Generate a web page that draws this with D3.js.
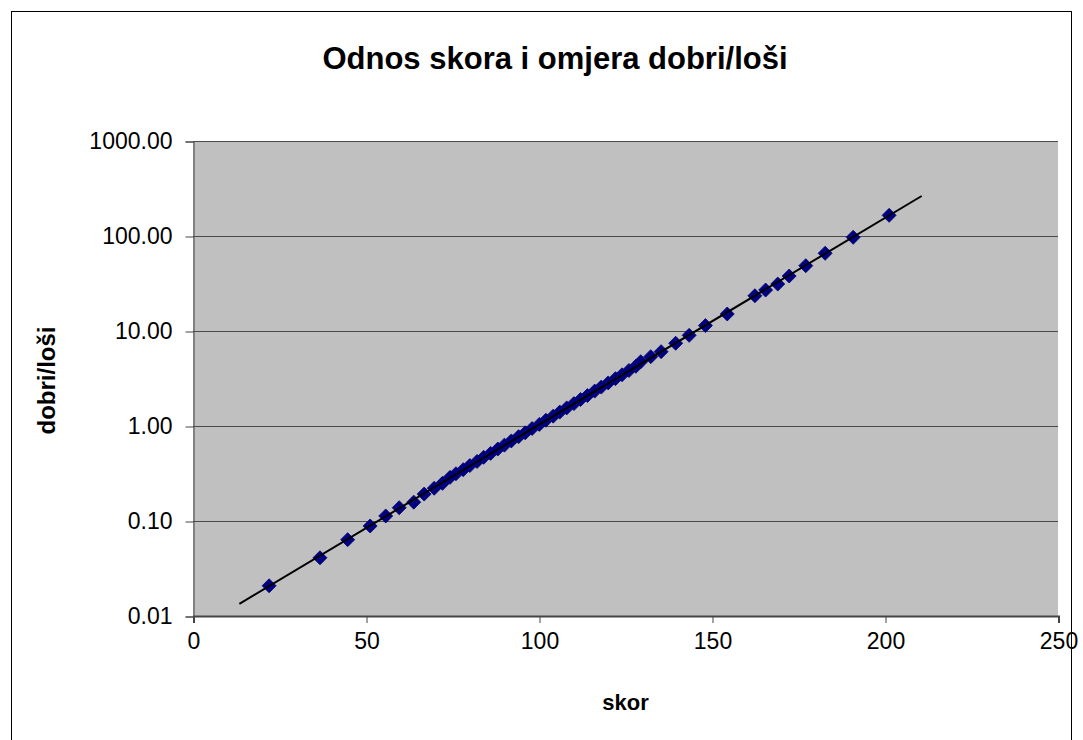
<!DOCTYPE html>
<html>
<head>
<meta charset="utf-8">
<script src="https://cdn.jsdelivr.net/npm/d3@7"></script>
<style>
  html, body { margin: 0; padding: 0; background: #fff; }
  svg { display: block; }
  text { font-family: "Liberation Sans", Arial, sans-serif; fill: #000; }
</style>
</head>
<body>
<svg id="chart" width="1083" height="740"></svg>
<script>
// ---- data ----
const chartTitle = "Odnos skora i omjera dobri/loši";
const xTitle = "skor";
const yTitle = "dobri/loši";
const xTicks = [0, 50, 100, 150, 200, 250];
const yTicks = [0.01, 0.1, 1, 10, 100, 1000];
const skor = [
  22.0, 36.7, 44.7, 51.2, 55.7, 59.6, 63.8, 66.8, 69.7, 72.1,
  74.3, 76.0, 78.1, 80.0, 82.1, 84.0, 86.0, 88.1, 90.0, 92.0,
  94.1, 96.0, 98.0, 100.1, 102.0, 104.1, 106.0, 108.0, 110.1, 112.0,
  114.0, 116.1, 118.0, 120.0, 122.1, 124.0, 126.0, 128.0, 129.4, 132.3,
  135.3, 139.5, 143.4, 148.1, 154.4, 162.4, 165.5, 169.0, 172.3, 177.1,
  182.7, 190.8, 201.2
];
const omjer = [
  0.0208, 0.041, 0.0636, 0.0886, 0.113, 0.138, 0.158, 0.192, 0.221, 0.249,
  0.288, 0.314, 0.347, 0.383, 0.424, 0.468, 0.515, 0.572, 0.629, 0.696,
  0.772, 0.848, 0.94, 1.04, 1.15, 1.27, 1.40, 1.55, 1.72, 1.90,
  2.09, 2.33, 2.57, 2.84, 3.15, 3.46, 3.84, 4.25, 4.75, 5.37,
  6.06, 7.43, 9.0, 11.4, 15.1, 23.5, 27.0, 31.2, 37.9, 48.7,
  65.8, 96.9, 165
];
const trendRange = [13.4, 210.6]; // exponential trendline with forecast

// ---- layout ----
const svg = d3.select("#chart");
const plot = { left: 193, right: 1058, top: 141, bottom: 616 };
const FONT = '"Liberation Sans", Arial, sans-serif';

const x = d3.scaleLinear().domain([0, 250]).range([plot.left, plot.right]);
const y = d3.scaleLog().domain([0.01, 1000]).range([plot.bottom, plot.top]);

// outer frame
svg.append("rect")
  .attr("x", 11.5).attr("y", 11.5)
  .attr("width", 1060).attr("height", 740)
  .attr("fill", "#fff").attr("stroke", "#000").attr("stroke-width", 1);

// plot area
svg.append("rect")
  .attr("x", plot.left).attr("y", plot.top)
  .attr("width", plot.right - plot.left).attr("height", plot.bottom - plot.top)
  .attr("fill", "#c0c0c0");

// gridlines
svg.append("g").selectAll("line")
  .data(yTicks.filter(d => d > 0.01))
  .join("line")
  .attr("x1", plot.left).attr("x2", plot.right)
  .attr("y1", d => Math.round(y(d)) + 0.5).attr("y2", d => Math.round(y(d)) + 0.5)
  .attr("stroke", "#4a4a4a").attr("stroke-width", 1.2);

// y axis
const yAxis = d3.axisLeft(y).tickValues(yTicks).tickFormat(d3.format(".2f")).tickSizeOuter(0).tickSize(8).tickPadding(13);
const gy = svg.append("g").attr("transform", `translate(${plot.left + 0.5},0.5)`).call(yAxis);
gy.select(".domain").attr("stroke", "#444");
gy.selectAll(".tick line").attr("stroke", "#444");
gy.selectAll(".tick text").attr("font-size", 23).attr("fill", "#000").attr("font-family", FONT);

// x axis
const xAxis = d3.axisBottom(x).tickValues(xTicks).tickFormat(d3.format("d")).tickSizeOuter(0).tickSize(7).tickPadding(10);
const gx = svg.append("g").attr("transform", `translate(0.5,${plot.bottom})`).call(xAxis);
gx.select(".domain").attr("stroke", "#444").attr("stroke-width", 2);
gx.selectAll(".tick line").attr("stroke", "#444");
gx.selectAll(".tick text").attr("font-size", 23).attr("fill", "#000").attr("font-family", FONT);

// trendline (least squares on log10 of the data)
const pts = skor.map((s, i) => [s, Math.log10(omjer[i])]);
const mx = d3.mean(pts, p => p[0]), my = d3.mean(pts, p => p[1]);
const b = d3.sum(pts, p => (p[0] - mx) * (p[1] - my)) / d3.sum(pts, p => (p[0] - mx) ** 2);
const a = my - b * mx;
const trend = trendRange.map(t => [t, Math.pow(10, a + b * t)]);

// markers
const diamond = "M0,-7L7,0L0,7L-7,0Z";
svg.append("g").selectAll("path")
  .data(skor.map((s, i) => [s, omjer[i]]))
  .join("path")
  .attr("d", diamond)
  .attr("transform", d => `translate(${x(d[0])},${y(d[1])})`)
  .attr("fill", "#000080")
  .attr("stroke", "#000070").attr("stroke-width", 0.8);

svg.append("path")
  .datum(trend)
  .attr("d", d3.line().x(d => x(d[0])).y(d => y(d[1])))
  .attr("fill", "none").attr("stroke", "#000").attr("stroke-width", 2);

// titles
svg.append("text").attr("x", 555).attr("y", 58)
  .attr("text-anchor", "middle").attr("dominant-baseline", "central")
  .attr("font-size", 31).attr("font-weight", "bold").text(chartTitle);

svg.append("text").attr("x", (plot.left + plot.right) / 2).attr("y", 702)
  .attr("text-anchor", "middle").attr("dominant-baseline", "central")
  .attr("font-size", 22).attr("font-weight", "bold").text(xTitle);

svg.append("text")
  .attr("transform", `translate(46,${(plot.top + plot.bottom) / 2 + 2}) rotate(-90)`)
  .attr("text-anchor", "middle").attr("dominant-baseline", "central")
  .attr("font-size", 24).attr("font-weight", "bold").text(yTitle);
</script>
</body>
</html>
